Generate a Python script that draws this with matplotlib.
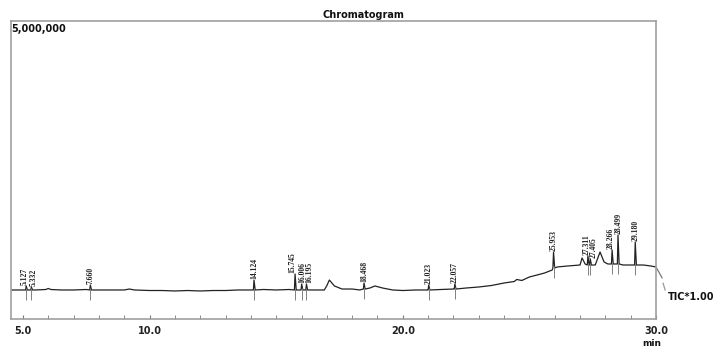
import matplotlib
matplotlib.use("Agg")
import matplotlib.pyplot as plt
import numpy as np

# ---- data ----
# baseline of the TIC trace (time in min, intensity in counts)
base_time = [4.53, 5.0, 5.5, 5.9, 6.0, 6.1, 6.5, 7.0, 7.5, 8.0, 8.5, 9.0, 9.2, 9.4, 10.0,
             10.5, 11.0, 11.5, 12.0, 12.5, 13.0, 13.5, 14.0, 14.5, 15.0, 15.5, 16.5,
             16.9, 17.0, 17.1, 17.3, 17.6, 18.0, 18.3, 18.7, 18.9, 19.2, 19.6, 20.0,
             20.5, 21.0, 21.5, 22.0, 22.5, 23.0, 23.5, 24.0, 24.4, 24.5, 24.7, 25.0,
             25.3, 25.6, 25.9, 26.1, 26.5, 27.0, 27.08, 27.2, 27.6, 27.79, 27.95,
             28.1, 28.4, 28.7, 29.0, 29.5, 29.8, 30.0]
base_int = [487000, 487000, 487000, 495000, 512000, 495000, 487000, 487000, 495000, 487000,
            487000, 487000, 503000, 487000, 478000, 478000, 470000, 478000, 470000, 478000,
            478000, 487000, 487000, 495000, 487000, 495000, 487000, 487000, 560000, 654000,
            554000, 503000, 503000, 487000, 520000, 554000, 520000, 487000, 478000, 487000,
            487000, 495000, 503000, 520000, 537000, 562000, 604000, 629000, 663000, 646000,
            705000, 738000, 772000, 822000, 873000, 889000, 906000, 1024000, 923000,
            906000, 1124000, 956000, 923000, 923000, 906000, 906000, 906000, 889000, 873000]

# labelled peaks: retention time, apex intensity, foot intensity
peak_time = [5.127, 5.332, 7.660, 14.124, 15.745, 16.006, 16.195, 18.468, 21.023,
             22.057, 25.953, 27.311, 27.405, 28.266, 28.499, 29.180]
peak_apex = [554000, 537000, 570000, 654000, 755000, 587000, 587000, 604000, 570000,
             587000, 1124000, 1057000, 1007000, 1158000, 1409000, 1292000]
peak_foot = [487000, 487000, 487000, 487000, 487000, 487000, 487000, 503000, 487000,
             503000, 856000, 906000, 906000, 923000, 923000, 906000]
peak_labels = ["5.127", "5.332", "7.660", "14.124", "15.745", "16.006", "16.195",
               "18.468", "21.023", "22.057", "25.953", "27.311", "27.405", "28.266",
               "28.499", "29.180"]
# small sideways nudges of crowded labels (min)
label_nudge = [-0.06, 0.08, 0, 0, -0.1, 0.03, 0.13, 0, 0, 0, 0, -0.06, 0.14, -0.04, 0.03, 0]

# trace beyond the axis end
tail_time = [30.0, 30.24]
tail_int = [873000, 690000]
tail2_time = [30.28, 30.36]
tail2_int = [600000, 487000]

major_ticks = [5, 10, 20, 30]
major_labels = ["5.0", "10.0", "20.0", "30.0"]

# ---- build trace ----
pts = list(zip(base_time, base_int))
for t, a, f in zip(peak_time, peak_apex, peak_foot):
    pts += [(t - 0.025, f), (t, a), (t + 0.045, f)]
pts.sort()
tt = [p[0] for p in pts]
yy = [p[1] for p in pts]

W, H = 714, 347
fig = plt.figure(figsize=(W / 100, H / 100), dpi=100)
ax = fig.add_axes([11 / W, 1 - 319 / H, (656 - 11) / W, (319 - 21) / H])
ax.set_xlim(4.526, 30.0)
ax.set_ylim(0, 5000000)

ax.plot(tt, yy, color="#222222", lw=0.9, solid_joinstyle="round")
ax.plot(tail_time, tail_int, color="#777777", lw=0.9, clip_on=False)
ax.plot(tail2_time, tail2_int, color="#999999", lw=0.9, clip_on=False)

# integration markers and labels
for t, a, f, lab, dx in zip(peak_time, peak_apex, peak_foot, peak_labels, label_nudge):
    ax.vlines(t, f - 160000, f + 40000, color="#808080", lw=0.7)
    ax.text(t + dx, a + 15000, lab, rotation=90, ha="center", va="bottom",
            fontsize=5.5, family="Liberation Serif", fontweight="bold", color="#222222")

for s in ax.spines.values():
    s.set_color("#a0a0a0")
    s.set_linewidth(1.2)

ax.set_yticks([])
ax.set_xticks(major_ticks)
ax.set_xticklabels(major_labels, fontsize=7, fontweight="bold", color="#222222")
ax.set_xticks(np.arange(5, 31, 1), minor=True)
ax.tick_params(axis="x", which="both", direction="in", length=3, color="#777777", pad=5)

fig.text(363 / W, 1 - 15 / H, "Chromatogram", ha="center", va="center",
         fontsize=7, fontweight="bold", color="#111111")
fig.text(11 / W, 1 - 29 / H, "5,000,000", ha="left", va="center",
         fontsize=7, fontweight="bold", color="#111111")
fig.text(668 / W, 1 - 297 / H, "TIC*1.00", ha="left", va="center",
         fontsize=7, fontweight="bold", color="#111111")
fig.text(652 / W, 1 - 343 / H, "min", ha="center", va="center",
         fontsize=6.5, fontweight="bold", color="#111111")

fig.savefig("out.png", dpi=100)
